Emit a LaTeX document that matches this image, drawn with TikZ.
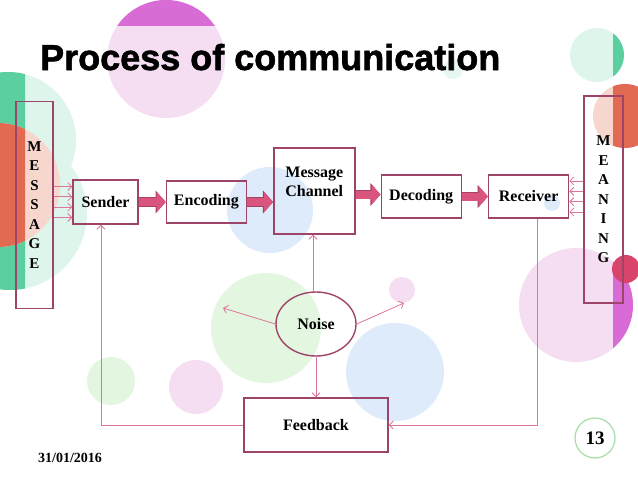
\documentclass[tikz,border=0pt]{standalone}
\usepackage{fontspec}
\setmainfont{Liberation Serif}
\newfontfamily\titlefont[BoldFeatures={FakeBold=1.6}]{Liberation Sans}
\usetikzlibrary{arrows.meta,positioning,calc,shapes.geometric}

\definecolor{frame}{HTML}{9E4468}
\definecolor{flowred}{HTML}{D9557D}
\definecolor{flowedge}{HTML}{A8405F}
\definecolor{linkpink}{HTML}{DD7499}
\definecolor{mintlt}{HTML}{DDF5EA}
\definecolor{mintdk}{HTML}{5CCFA0}
\definecolor{coral}{HTML}{E26A52}
\definecolor{peach}{HTML}{F7D6CE}
\definecolor{pinklt}{HTML}{F5DDF2}
\definecolor{orchid}{HTML}{D86BD6}
\definecolor{greenlt}{HTML}{E2F6E0}
\definecolor{bluelt}{HTML}{DDEBFA}
\definecolor{crimson}{HTML}{D9456A}
\definecolor{pagegreen}{HTML}{A6DDA6}

\newcommand{\boxfont}{\bfseries\fontsize{16}{19.3}\selectfont}
\newcommand{\letterfont}{\bfseries\fontsize{15}{19.5}\selectfont}

\begin{document}
\begin{tikzpicture}[
  x=1pt, y=-1pt,
  block/.style={rectangle, draw=frame, line width=1.4pt, inner sep=0pt, align=center, font=\boxfont},
  flow/.style={line width=8pt, flowred, -{Triangle[length=9pt, width=20pt]},
    preaction={draw=flowedge, line width=9.6pt, -{Triangle[length=10.2pt, width=22.4pt]}}},
  link/.style={linkpink, line width=0.8pt, -{Straight Barb[length=4pt, width=8pt]}},
  node distance=26pt
]
\useasboundingbox (0,0) rectangle (638,479);
\clip (0,0) rectangle (638,479);
\fill[white] (0,0) rectangle (638,479);

% background bubbles
\fill[mintlt] (8,140) circle (68);
\fill[mintlt] (10,213) circle (77);
\begin{scope}
  \clip (0,0) rectangle (25,479);
  \fill[mintdk] (8,140) circle (68);
  \fill[mintdk] (10,213) circle (77);
\end{scope}
\fill[peach] (-2,185) circle (62);
\begin{scope}
  \clip (0,0) rectangle (25,479);
  \fill[coral] (-2,185) circle (62);
\end{scope}
\fill[pinklt] (166,59) circle (59);
\begin{scope}
  \clip (0,0) rectangle (638,25);
  \fill[orchid] (166,59) circle (59);
\end{scope}
\fill[mintlt] (597,55) circle (27);
\fill[peach] (625,116) circle (32);
\fill[pinklt] (576,305) circle (57);
\begin{scope}
  \clip (613,0) rectangle (638,479);
  \fill[mintdk] (597,55) circle (27);
  \fill[coral] (625,116) circle (32);
  \fill[orchid] (576,305) circle (57);
\end{scope}
\fill[crimson] (626,269) circle (14);
\fill[mintlt!70!white] (453,69) circle (10);
\fill[bluelt] (270,210) circle (43);
\fill[bluelt] (552,203) circle (8);
\fill[greenlt] (266,328) circle (55);
\fill[pinklt] (402,290) circle (13);
\fill[bluelt] (395,372) circle (49);
\fill[greenlt] (111,381) circle (24);
\fill[pinklt] (196,387) circle (27);

% title and footer
\node[anchor=base west, inner sep=0pt, font=\titlefont\bfseries\fontsize{36}{40}\selectfont] (title) at (40,70) {Process of communication};
\node[font=\bfseries\fontsize{14}{16}\selectfont] (date) at (70,458) {31/01/2016};
\node[circle, draw=pagegreen, line width=1.2pt, minimum size=40pt, inner sep=0pt, font=\bfseries\fontsize{19}{22}\selectfont] (pagenum) at (595,438) {13};

% main chain
\node[block, minimum width=37pt, minimum height=207pt, font=\letterfont] (msg) at (34.5,205) {M\\E\\S\\S\\A\\G\\E};
\node[block, minimum width=65pt, minimum height=44pt] (sender) at (105.5,202) {Sender};
\node[block, minimum width=80pt, minimum height=42pt, right=27pt of sender] (enc) {Encoding};
\node[block, minimum width=81pt, minimum height=86pt, right=26pt of enc, yshift=11pt,
  label={[font=\boxfont, align=center, inner sep=0pt, anchor=north, yshift=-19.4pt]north:Message\\Channel}] (chan) {};
\node[block, minimum width=80pt, minimum height=43pt, right=25pt of chan, yshift=-5.5pt] (dec) {Decoding};
\node[block, minimum width=80pt, minimum height=43pt, right=26pt of dec] (rcv) {Receiver};
\node[block, minimum width=39pt, minimum height=207pt, font=\letterfont] (mean) at (603.5,199.5) {M\\E\\A\\N\\I\\N\\G};
\node[ellipse, draw=frame, line width=1.4pt, minimum width=80pt, minimum height=64pt, inner sep=0pt, font=\boxfont] (noise) at (316,324) {Noise};
\node[block, minimum width=144pt, minimum height=54pt] (feed) at (316,425) {Feedback};
\coordinate (noiseL) at (223,308);
\coordinate (noiseR) at (404,303);

% block arrows
\draw[flow] (sender.east) -- (enc.west);
\draw[flow] (enc.east) -- (enc.east -| chan.west);
\draw[flow] ([yshift=2pt]dec.west -| chan.east) -- ([yshift=2pt]dec.west);
\draw[flow] (dec.east) -- (rcv.west);

% thin links
\foreach \k in {-1.5,-0.5,0.5,1.5} {
  \draw[link] ([yshift=10.3*\k pt]sender.west -| msg.east) -- ([yshift=10.3*\k pt]sender.west);
  \draw[link] ([yshift=10.3*\k pt]rcv.east -| mean.west) -- ([yshift=10.3*\k pt]rcv.east);
}
\draw[link] ([xshift=-3pt]noise.north) -- ([xshift=-3pt]noise.north |- chan.south);
\draw[link] (noise.west) -- (noiseL);
\draw[link] (noise.east) -- (noiseR);
\draw[link] (noise.south) -- (noise.south |- feed.north);
\draw[link] (feed.west) -| ([xshift=-4.5pt]sender.south);
\draw[link] ([xshift=9pt]rcv.south) |- (feed.east);
\end{tikzpicture}
\end{document}
